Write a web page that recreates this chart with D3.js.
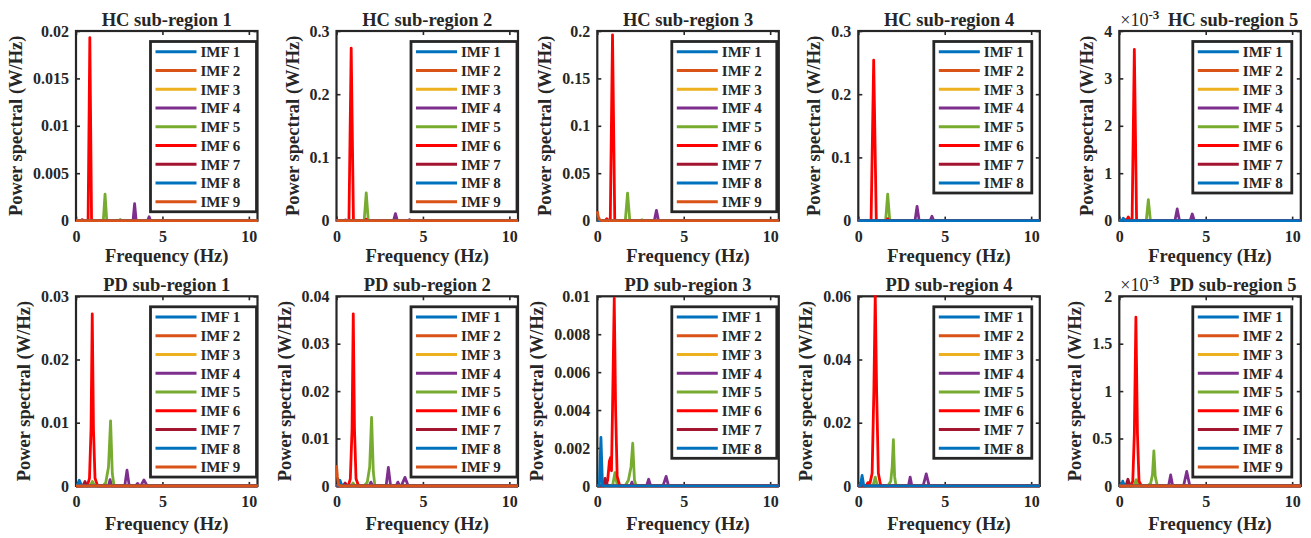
<!DOCTYPE html>
<html>
<head>
<meta charset="utf-8">
<script src="https://cdn.jsdelivr.net/npm/d3@7"></script>
<style>
  body { margin: 0; background: #fff; }
  text { font-family: "Liberation Serif", "Times New Roman", serif; font-weight: bold; fill: #262626; }
</style>
</head>
<body>
<div id="chart"></div>
<script>
// Chart data
const imfNames = ["IMF 1", "IMF 2", "IMF 3", "IMF 4", "IMF 5", "IMF 6", "IMF 7", "IMF 8", "IMF 9"];
const imfColors = ["#0072BD", "#D95319", "#EDB120", "#7E2F8E", "#77AC30", "#FF0000", "#A2142F", "#0072BD", "#D95319"];

const panelTitles = [
  "HC sub-region 1", "HC sub-region 2", "HC sub-region 3", "HC sub-region 4", "HC sub-region 5",
  "PD sub-region 1", "PD sub-region 2", "PD sub-region 3", "PD sub-region 4", "PD sub-region 5"
];
const imfCounts = [9, 9, 9, 8, 8, 9, 9, 8, 8, 9];
const yMaxes = [0.02, 0.3, 0.2, 0.3, 4, 0.03, 0.04, 0.01, 0.06, 2];
const yExponents = [null, null, null, null, "-3", null, null, null, null, "-3"];
const yTickValues = [
  [0, 0.005, 0.01, 0.015, 0.02], [0, 0.1, 0.2, 0.3], [0, 0.05, 0.1, 0.15, 0.2], [0, 0.1, 0.2, 0.3], [0, 1, 2, 3, 4],
  [0, 0.01, 0.02, 0.03], [0, 0.01, 0.02, 0.03, 0.04], [0, 0.002, 0.004, 0.006, 0.008, 0.01], [0, 0.02, 0.04, 0.06], [0, 0.5, 1, 1.5, 2]
];
const yTickLabels = [
  ["0", "0.005", "0.01", "0.015", "0.02"], ["0", "0.1", "0.2", "0.3"], ["0", "0.05", "0.1", "0.15", "0.2"], ["0", "0.1", "0.2", "0.3"], ["0", "1", "2", "3", "4"],
  ["0", "0.01", "0.02", "0.03"], ["0", "0.01", "0.02", "0.03", "0.04"], ["0", "0.002", "0.004", "0.006", "0.008", "0.01"], ["0", "0.02", "0.04", "0.06"], ["0", "0.5", "1", "1.5", "2"]
];
const xTicks = [0, 5, 10];
const xMax = 10.5;

// spectra: [imf number, [[frequency Hz, power], ...]] -- only the non-zero parts
const hc1Spectra = [
  [4, [[3.3, 0], [3.39, 0.0018], [3.48, 0], [4.15, 0], [4.23, 0.0004], [4.31, 0]]],
  [5, [[1.58, 0], [1.68, 0.0028], [1.78, 0], [2.5, 0], [2.56, 0.00012], [2.62, 0]]],
  [6, [[0.7, 0], [0.8, 0.0193], [0.9, 0]]],
  [7, [[0.3, 0], [0.36, 0.0001], [0.42, 0]]]
];
const hc2Spectra = [
  [4, [[3.3, 0], [3.41, 0.011], [3.52, 0], [4.15, 0], [4.22, 0.0015], [4.29, 0]]],
  [5, [[1.6, 0], [1.72, 0.044], [1.84, 0]]],
  [6, [[0.72, 0], [0.85, 0.273], [0.98, 0], [1.65, 0], [1.72, 0.002], [1.79, 0]]],
  [7, [[0.45, 0], [0.52, 0.001], [0.59, 0]]]
];
const hc3Spectra = [
  [4, [[3.3, 0], [3.42, 0.0108], [3.54, 0]]],
  [5, [[1.62, 0], [1.75, 0.029], [1.88, 0], [2.5, 0], [2.58, 0.0008], [2.66, 0]]],
  [6, [[0.45, 0], [0.55, 0.002], [0.65, 0], [0.75, 0], [0.88, 0.196], [1.01, 0]]],
  [9, [[0, 0.0098], [0.06, 0.004], [0.15, 0.0005], [0.3, 0]]]
];
const hc4Spectra = [
  [4, [[3.28, 0], [3.4, 0.0226], [3.52, 0], [4.16, 0], [4.26, 0.0068], [4.36, 0]]],
  [5, [[1.58, 0], [1.7, 0.042], [1.82, 0]]],
  [6, [[0.74, 0], [0.89, 0.254], [1.04, 0], [1.62, 0], [1.7, 0.003], [1.78, 0]]]
];
const hc5Spectra = [
  [4, [[3.22, 0], [3.35, 0.246], [3.48, 0], [4.1, 0], [4.22, 0.14], [4.34, 0]]],
  [5, [[1.56, 0], [1.68, 0.44], [1.8, 0]]],
  [6, [[0.42, 0], [0.52, 0.078], [0.62, 0], [0.74, 0], [0.87, 3.61], [1.0, 0]]],
  [7, [[0.22, 0], [0.3, 0.03], [0.38, 0]]],
  [8, [[0.15, 0], [0.23, 0.05], [0.31, 0]]]
];
const pd1Spectra = [
  [4, [[1.88, 0], [1.97, 0.001], [2.06, 0], [2.82, 0], [2.95, 0.0025], [3.08, 0], [3.45, 0], [3.56, 0.0004], [3.67, 0], [3.75, 0], [3.93, 0.00095], [4.12, 0]]],
  [5, [[0.82, 0], [0.95, 0.0007], [1.08, 0], [1.55, 0], [1.72, 0.0005], [1.88, 0.003], [2.0, 0.0103], [2.1, 0.002], [2.2, 0]]],
  [6, [[0.65, 0], [0.78, 0.0012], [0.87, 0.009], [0.94, 0.0272], [1.01, 0.009], [1.1, 0.0012], [1.25, 0]]],
  [7, [[0.4, 0], [0.52, 0.0007], [0.64, 0]]],
  [8, [[0.05, 0], [0.19, 0.0009], [0.33, 0]]]
];
const pd2Spectra = [
  [4, [[1.9, 0], [1.99, 0.0008], [2.08, 0], [2.87, 0], [3.0, 0.0039], [3.13, 0], [3.45, 0], [3.55, 0.0008], [3.65, 0], [3.75, 0], [3.96, 0.0018], [4.15, 0]]],
  [5, [[0.85, 0], [0.96, 0.0006], [1.07, 0], [1.6, 0], [1.78, 0.0008], [1.92, 0.004], [2.03, 0.01445], [2.13, 0.003], [2.22, 0]]],
  [6, [[0.68, 0], [0.8, 0.0015], [0.9, 0.012], [0.97, 0.0363], [1.04, 0.012], [1.13, 0.0015], [1.28, 0]]],
  [7, [[0.38, 0], [0.5, 0.0006], [0.62, 0]]],
  [8, [[0.08, 0], [0.2, 0.0012], [0.32, 0]]],
  [9, [[0, 0.0044], [0.05, 0.002], [0.12, 0.0002], [0.25, 0]]]
];
const pd3Spectra = [
  [4, [[1.92, 0], [2.0, 0.0002], [2.08, 0], [2.85, 0], [2.97, 0.00035], [3.09, 0], [3.8, 0], [3.98, 0.0005], [4.12, 0]]],
  [5, [[0.88, 0], [1.02, 0.0007], [1.16, 0], [1.6, 0], [1.8, 0.0003], [1.95, 0.001], [2.05, 0.00225], [2.15, 0.0003], [2.25, 0]]],
  [6, [[0.5, 0], [0.6, 0.0003], [0.7, 0.0013], [0.77, 0.0015], [0.82, 0.0008], [0.88, 0.004], [0.98, 0.0099], [1.06, 0.004], [1.15, 0.0005], [1.3, 0]]],
  [7, [[0.35, 0], [0.45, 0.0004], [0.6, 0]]],
  [8, [[0.12, 0], [0.21, 0.00256], [0.3, 0]]]
];
const pd4Spectra = [
  [4, [[2.9, 0], [3.0, 0.0028], [3.1, 0], [3.75, 0], [3.93, 0.0038], [4.1, 0]]],
  [5, [[0.85, 0], [0.98, 0.0028], [1.1, 0], [1.7, 0], [1.88, 0.0015], [1.96, 0.006], [2.03, 0.0146], [2.1, 0.003], [2.18, 0]]],
  [6, [[0.45, 0], [0.55, 0.001], [0.68, 0.001], [0.8, 0.004], [0.9, 0.03], [0.98, 0.0605], [1.06, 0.03], [1.16, 0.004], [1.3, 0]]],
  [8, [[0.12, 0], [0.22, 0.0033], [0.32, 0]]]
];
const pd5Spectra = [
  [4, [[2.85, 0], [2.97, 0.116], [3.09, 0], [3.72, 0], [3.9, 0.152], [4.08, 0]]],
  [5, [[0.85, 0], [0.98, 0.065], [1.1, 0], [1.65, 0], [1.82, 0.03], [1.92, 0.12], [2.0, 0.37], [2.08, 0.1], [2.2, 0]]],
  [6, [[0.66, 0], [0.78, 0.05], [0.87, 0.55], [0.96, 1.78], [1.05, 0.55], [1.14, 0.05], [1.28, 0]]],
  [7, [[0.38, 0], [0.5, 0.07], [0.62, 0]]],
  [8, [[0.1, 0], [0.2, 0.05], [0.3, 0]]]
];
const spectra = [hc1Spectra, hc2Spectra, hc3Spectra, hc4Spectra, hc5Spectra,
                 pd1Spectra, pd2Spectra, pd3Spectra, pd4Spectra, pd5Spectra];

// Layout
const width = 1311;
const height = 538;
const colLefts = [76, 336.5, 597.3, 858.3, 1119.3];
const rowTops = [31, 296.3];
const xLabelOffsets = [41.5, 44];
const axW = 181.5;
const axH = 189.6;
const legendWidths = [106, 106, 105, 98, 99];
const legendRightGaps = [1, 1, 2, 8, 9];
const dark = "#262626";

const svg = d3.select("#chart")
  .append("svg")
  .attr("width", width)
  .attr("height", height);

function buildSeries(points) {
  const pts = points ? points.slice() : [];
  if (!pts.length || pts[0][0] > 0) pts.unshift([0, 0]);
  pts.push([xMax, 0]);
  return pts;
}

panelTitles.forEach((title, i) => {
  const row = Math.floor(i / 5);
  const col = i % 5;
  const left = colLefts[col];
  const top = rowTops[row];

  const x = d3.scaleLinear().domain([0, xMax]).range([left, left + axW]);
  const y = d3.scaleLinear().domain([0, yMaxes[i]]).range([top + axH, top]);

  const g = svg.append("g");

  g.append("clipPath")
    .attr("id", "clip" + i)
    .append("rect")
    .attr("x", left - 2)
    .attr("y", top - 1)
    .attr("width", axW + 4)
    .attr("height", axH + 3);

  // axes (ticks point inward, like MATLAB)
  const yg = g.append("g")
    .attr("transform", `translate(${left},0)`)
    .call(d3.axisLeft(y).tickValues(yTickValues[i])
      .tickFormat((d, j) => yTickLabels[i][j]).tickSize(-4).tickPadding(7));
  g.append("g")
    .attr("transform", `translate(${left + axW},0)`)
    .call(d3.axisRight(y).tickValues(yTickValues[i]).tickFormat("").tickSize(-4));
  g.append("g")
    .attr("transform", `translate(0,${top + axH})`)
    .call(d3.axisBottom(x).tickValues(xTicks).tickSize(-4).tickPadding(10));
  g.append("g")
    .attr("transform", `translate(0,${top})`)
    .call(d3.axisTop(x).tickValues(xTicks).tickFormat("").tickSize(-4));

  g.selectAll(".domain").remove();
  g.selectAll(".tick line").attr("stroke", dark).attr("stroke-width", 1.6);
  g.selectAll(".tick text")
    .attr("font-size", "16px")
    .attr("font-family", "Liberation Serif, Times New Roman, serif")
    .attr("font-weight", "bold")
    .attr("fill", dark);

  g.append("rect")
    .attr("x", left)
    .attr("y", top)
    .attr("width", axW)
    .attr("height", axH)
    .attr("fill", "none")
    .attr("stroke", dark)
    .attr("stroke-width", 2.2);

  // spectra lines
  const line = d3.line().x(d => x(d[0])).y(d => y(d[1]));
  const lines = g.append("g").attr("clip-path", `url(#clip${i})`);
  for (let k = 1; k <= imfCounts[i]; k++) {
    const entry = spectra[i].find(s => s[0] === k);
    lines.append("path")
      .datum(buildSeries(entry ? entry[1] : null))
      .attr("d", line)
      .attr("fill", "none")
      .attr("stroke", imfColors[k - 1])
      .attr("stroke-width", 2.8)
      .attr("stroke-linejoin", "round");
  }

  // legend
  const n = imfCounts[i];
  const lw = legendWidths[col];
  const lx = left + axW - legendRightGaps[col] - lw;
  const ly = top + 10.5;
  const step = 18.75;
  const lg = g.append("g");
  lg.append("rect")
    .attr("x", lx)
    .attr("y", ly)
    .attr("width", lw)
    .attr("height", n * step + 1.5)
    .attr("fill", "#fff")
    .attr("stroke", dark)
    .attr("stroke-width", 2.8);
  d3.range(n).forEach(j => {
    const cy = ly + 10.3 + j * step;
    lg.append("line")
      .attr("x1", lx + 5)
      .attr("x2", lx + 46)
      .attr("y1", cy)
      .attr("y2", cy)
      .attr("stroke", imfColors[j])
      .attr("stroke-width", 3);
    lg.append("text")
      .attr("x", lx + 50)
      .attr("y", cy)
      .attr("dy", "0.35em")
      .attr("font-size", "15px")
      .text(imfNames[j]);
  });

  // title, labels
  g.append("text")
    .attr("x", left + axW / 2 + (yExponents[i] ? 23 : 0))
    .attr("y", top - 5.5)
    .attr("text-anchor", "middle")
    .attr("font-size", "18.5px")
    .attr("fill", "#000")
    .text(title);

  g.append("text")
    .attr("x", left + axW / 2)
    .attr("y", top + axH + xLabelOffsets[row])
    .attr("text-anchor", "middle")
    .attr("font-size", "18.5px")
    .text("Frequency (Hz)");

  const minX = left + yg.node().getBBox().x;
  g.append("text")
    .attr("transform", `translate(${minX - 11},${top + axH / 2}) rotate(-90)`)
    .attr("text-anchor", "middle")
    .attr("font-size", "18.5px")
    .text("Power spectral (W/Hz)");

  if (yExponents[i]) {
    const ex = g.append("text")
      .attr("x", left + 1)
      .attr("y", top - 5)
      .attr("font-size", "18px");
    ex.append("tspan").attr("font-weight", "normal").text("\u00d710");
    ex.append("tspan").attr("dy", -7).attr("font-size", "13px").text(yExponents[i]);
  }
});
</script>
</body>
</html>
